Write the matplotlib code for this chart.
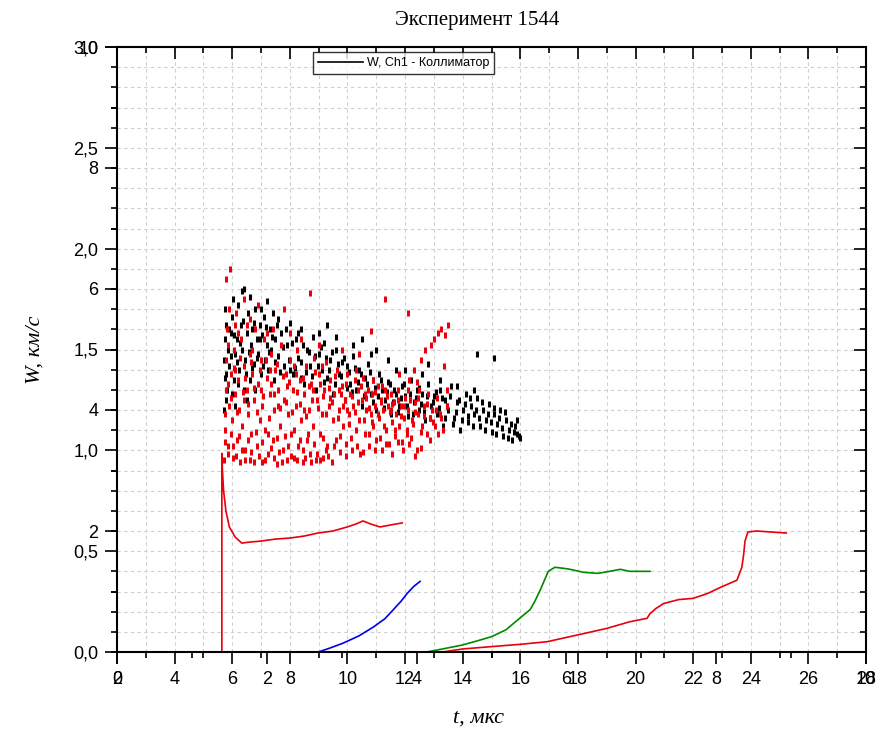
import matplotlib.pyplot as plt
from matplotlib.ticker import MultipleLocator, FuncFormatter
from matplotlib.lines import Line2D

# Красная кривая со всплеском
t_red1 = [5.64, 5.64, 5.66, 5.70, 5.78, 5.90, 6.10, 6.33, 6.60, 7.00, 7.50, 8.00,
          8.50, 8.98, 9.50, 9.99, 10.30, 10.54, 10.80, 11.13, 11.50, 11.90]
w_red1 = [0.0, 0.985, 0.90, 0.80, 0.70, 0.62, 0.57, 0.54, 0.545, 0.55, 0.56, 0.565,
          0.575, 0.59, 0.60, 0.62, 0.635, 0.65, 0.635, 0.62, 0.63, 0.64]

# Синяя кривая
t_blue = [8.99, 9.4, 9.85, 10.4, 10.9, 11.3, 11.58, 11.85, 12.07, 12.3, 12.52]
w_blue = [0.0, 0.02, 0.044, 0.08, 0.124, 0.165, 0.208, 0.25, 0.29, 0.325, 0.35]

# Зелёная кривая
t_green = [12.75, 13.3, 14.0, 14.5, 15.0, 15.5, 16.0, 16.34, 16.5, 16.7, 16.97, 17.2,
           17.5, 17.73, 18.2, 18.7, 19.1, 19.47, 19.8, 20.05, 20.5]
w_green = [0.0, 0.015, 0.035, 0.055, 0.076, 0.11, 0.17, 0.21, 0.25, 0.31, 0.40, 0.42,
           0.415, 0.41, 0.395, 0.39, 0.40, 0.41, 0.40, 0.40, 0.40]

# Вторая красная кривая
t_red2 = [13.3, 14.0, 14.85, 16.0, 16.93, 18.0, 19.0, 19.8, 20.4, 20.5, 20.7, 20.97,
          21.5, 22.0, 22.5, 22.94, 23.52, 23.69, 23.75, 23.8, 23.9, 24.2, 24.7, 25.23]
w_red2 = [0.0, 0.015, 0.025, 0.038, 0.051, 0.085, 0.117, 0.15, 0.167, 0.19, 0.215, 0.24,
          0.26, 0.266, 0.29, 0.32, 0.356, 0.42, 0.48, 0.55, 0.595, 0.60, 0.595, 0.59]

# Чёрные точки (Ch1 - Коллиматор)
black_pts = [
    (5.72, 1.45), (5.75, 1.55), (5.78, 1.38), (5.8, 1.62), (5.82, 1.30), (5.85, 1.50),
    (5.9, 1.42), (5.95, 1.58), (6.0, 1.66), (6.05, 1.35), (6.1, 1.48), (6.15, 1.55),
    (6.2, 1.72), (6.25, 1.40), (6.3, 1.62), (6.35, 1.50), (6.4, 1.80), (6.45, 1.45),
    (6.5, 1.58), (6.55, 1.68), (6.6, 1.35), (6.65, 1.52), (6.7, 1.60), (6.75, 1.43),
    (6.8, 1.70), (6.85, 1.55), (6.9, 1.48), (6.95, 1.62), (7.0, 1.38), (7.05, 1.57),
    (7.1, 1.66), (7.15, 1.45), (7.2, 1.52), (7.25, 1.40), (7.3, 1.60), (7.35, 1.50),
    (7.4, 1.68), (7.45, 1.35), (7.5, 1.55), (7.6, 1.47), (7.7, 1.58), (7.8, 1.42),
    (7.9, 1.52), (8.0, 1.63), (8.1, 1.38), (8.2, 1.55), (8.3, 1.46), (8.4, 1.60),
    (8.5, 1.33), (8.6, 1.50), (8.7, 1.42), (8.8, 1.56), (8.9, 1.30), (9.0, 1.48),
    (9.1, 1.40), (9.2, 1.53), (9.3, 1.36), (9.4, 1.45), (9.5, 1.28), (9.6, 1.50),
    (9.7, 1.38), (9.8, 1.44), (9.9, 1.25), (10.0, 1.42), (10.1, 1.33), (10.2, 1.47),
    (10.3, 1.30), (10.4, 1.40), (10.5, 1.22), (10.6, 1.36), (10.7, 1.43), (10.8, 1.28),
    (10.9, 1.35), (11.0, 1.20), (11.1, 1.38), (11.2, 1.30), (11.3, 1.25), (11.4, 1.34),
    (11.5, 1.18), (11.6, 1.30), (11.7, 1.40), (11.8, 1.22), (11.9, 1.32), (12.0, 1.27),
    (12.1, 1.17), (12.2, 1.35), (12.3, 1.24), (12.4, 1.30), (12.5, 1.20), (12.6, 1.28),
    (12.7, 1.15), (12.8, 1.33), (12.9, 1.22), (13.0, 1.27), (13.1, 1.18), (13.2, 1.30),
    (13.3, 1.12), (13.4, 1.25), (13.5, 1.20), (13.6, 1.32), (13.7, 1.16), (13.8, 1.24),
    (13.9, 1.10), (14.0, 1.20), (14.1, 1.28), (14.2, 1.14), (14.3, 1.22), (14.4, 1.18),
    (14.5, 1.26), (14.6, 1.12), (14.7, 1.20), (14.8, 1.15), (14.9, 1.23), (15.0, 1.09),
    (15.1, 1.18), (15.2, 1.13), (15.3, 1.20), (15.4, 1.07), (15.5, 1.15), (15.6, 1.10),
    (15.7, 1.05), (15.8, 1.12), (15.9, 1.08), (16.0, 1.06), (14.5, 1.48), (15.1, 1.46),
    (6.35, 1.79), (5.7, 1.20), (5.75, 1.70), (6.0, 1.28), (6.2, 1.33), (6.5, 1.25),
    (6.8, 1.30), (7.2, 1.74), (7.6, 1.65), (8.0, 1.40), (8.4, 1.36), (9.0, 1.58),
    (9.6, 1.56), (10.2, 1.52), (10.8, 1.48), (11.4, 1.45), (12.0, 1.40), (12.6, 1.38),
    (13.2, 1.35), (13.8, 1.32), (14.4, 1.30),
    (5.74, 1.36), (5.88, 1.60), (5.97, 1.47), (6.07, 1.57), (6.17, 1.44), (6.27, 1.53),
    (6.37, 1.64), (6.47, 1.38), (6.57, 1.49), (6.67, 1.41), (6.77, 1.63), (6.87, 1.46),
    (6.97, 1.55), (7.07, 1.42), (7.17, 1.61), (7.27, 1.49), (7.37, 1.56), (7.47, 1.44),
    (7.57, 1.62), (7.67, 1.39), (7.77, 1.51), (7.87, 1.60), (7.97, 1.45), (8.07, 1.53),
    (8.17, 1.41), (8.27, 1.58), (8.37, 1.44), (8.47, 1.52), (8.57, 1.39), (8.67, 1.49),
    (8.77, 1.37), (8.87, 1.47), (8.97, 1.42), (9.07, 1.51), (9.17, 1.34), (9.27, 1.46),
    (9.37, 1.40), (9.47, 1.49), (9.57, 1.33), (9.67, 1.43), (9.77, 1.37), (9.87, 1.46),
    (9.97, 1.31), (10.07, 1.39), (10.17, 1.29), (10.27, 1.41), (10.37, 1.34), (10.47, 1.38),
    (10.57, 1.27), (10.67, 1.33), (10.77, 1.39), (10.87, 1.24), (10.97, 1.31), (11.07, 1.27),
    (11.17, 1.35), (11.27, 1.21), (11.37, 1.29), (11.47, 1.33), (11.57, 1.24), (11.67, 1.28),
    (11.77, 1.19), (11.87, 1.26), (11.97, 1.33), (12.07, 1.22), (12.17, 1.28), (12.27, 1.18),
    (12.37, 1.26), (12.47, 1.31), (12.57, 1.23), (12.67, 1.19), (12.77, 1.27), (12.87, 1.16),
    (12.97, 1.24), (13.07, 1.29), (13.17, 1.21), (13.27, 1.26), (13.37, 1.16), (13.47, 1.22),
    (13.57, 1.27), (13.67, 1.13), (13.77, 1.19), (13.87, 1.25), (13.97, 1.15), (14.07, 1.23),
    (14.17, 1.17), (14.27, 1.26), (14.37, 1.12), (14.47, 1.20), (14.57, 1.16), (14.67, 1.24),
    (14.77, 1.10), (14.87, 1.18), (14.97, 1.14), (15.07, 1.21), (15.17, 1.08), (15.27, 1.16),
    (15.37, 1.11), (15.47, 1.19), (15.57, 1.06), (15.67, 1.13), (15.77, 1.09), (15.87, 1.15),
    (15.97, 1.07), (6.02, 1.75), (6.6, 1.76), (7.0, 1.70), (5.78, 1.25), (6.1, 1.22),
    (6.4, 1.30), (9.3, 1.62), (10.5, 1.55), (11.0, 1.50), (12.8, 1.43),
]

# Красные точки
red_pts = [
    (5.72, 0.95), (5.75, 1.10), (5.78, 1.30), (5.8, 1.45), (5.82, 1.60), (5.85, 1.02),
    (5.9, 1.22), (5.92, 1.90), (5.95, 1.38), (6.0, 1.15), (6.02, 0.96), (6.05, 1.50),
    (6.1, 1.28), (6.12, 1.68), (6.15, 1.05), (6.2, 1.35), (6.25, 1.20), (6.28, 0.94),
    (6.3, 1.55), (6.35, 1.12), (6.4, 1.42), (6.42, 1.75), (6.45, 1.00), (6.5, 1.30),
    (6.55, 1.18), (6.6, 1.48), (6.62, 0.95), (6.65, 1.08), (6.7, 1.38), (6.75, 1.25),
    (6.8, 1.60), (6.85, 1.02), (6.9, 1.33), (6.95, 1.15), (7.0, 1.45), (7.02, 0.94),
    (7.05, 1.22), (7.1, 1.55), (7.15, 1.10), (7.2, 1.36), (7.25, 0.98), (7.3, 1.28),
    (7.35, 1.48), (7.4, 1.05), (7.45, 1.20), (7.5, 1.40), (7.55, 0.93), (7.6, 1.30),
    (7.65, 1.12), (7.7, 1.52), (7.75, 1.00), (7.8, 1.25), (7.85, 1.38), (7.9, 0.95),
    (7.95, 1.18), (8.0, 1.45), (8.05, 1.08), (8.1, 1.30), (8.15, 0.96), (8.2, 1.22),
    (8.25, 1.50), (8.3, 1.02), (8.35, 1.35), (8.4, 1.15), (8.45, 0.94), (8.5, 1.28),
    (8.55, 1.42), (8.6, 1.05), (8.65, 1.20), (8.7, 0.98), (8.75, 1.33), (8.8, 1.12),
    (8.85, 1.46), (8.9, 0.95), (8.95, 1.25), (9.0, 1.38), (9.05, 1.08), (9.1, 1.18),
    (9.15, 0.96), (9.2, 1.30), (9.25, 1.44), (9.3, 1.02), (9.35, 1.22), (9.4, 1.35),
    (9.45, 0.94), (9.5, 1.15), (9.55, 1.28), (9.6, 1.05), (9.65, 1.40), (9.7, 1.20),
    (9.75, 0.99), (9.8, 1.32), (9.85, 1.12), (9.9, 1.25), (9.95, 1.03), (10.0, 1.38),
    (10.05, 1.18), (10.1, 1.28), (10.15, 1.00), (10.2, 1.22), (10.25, 1.35), (10.3, 1.10),
    (10.35, 1.30), (10.4, 1.15), (10.45, 0.98), (10.5, 1.25), (10.55, 1.36), (10.6, 1.08),
    (10.65, 1.20), (10.7, 1.30), (10.75, 1.02), (10.8, 1.18), (10.85, 1.28), (10.9, 1.12),
    (10.95, 1.22), (11.0, 1.05), (11.05, 1.32), (11.1, 1.16), (11.15, 1.25), (11.2, 1.00),
    (11.25, 1.20), (11.3, 1.30), (11.35, 1.10), (11.4, 1.22), (11.45, 1.03), (11.5, 1.28),
    (11.55, 1.14), (11.6, 1.24), (11.65, 1.07), (11.7, 1.18), (11.75, 1.30), (11.8, 1.12),
    (11.85, 1.22), (11.9, 1.04), (11.95, 1.16), (12.0, 1.26), (12.05, 1.10), (12.1, 1.20),
    (12.15, 1.35), (12.2, 1.06), (12.25, 1.15), (12.3, 1.40), (12.35, 1.24), (12.4, 1.00),
    (12.45, 1.18), (12.5, 1.30), (12.55, 1.45), (12.6, 1.12), (12.65, 1.22), (12.7, 1.50),
    (12.75, 1.08), (12.8, 1.28), (12.85, 1.16), (12.9, 1.52), (12.95, 1.20), (13.0, 1.55),
    (13.05, 1.12), (13.1, 1.26), (13.15, 1.58), (13.2, 1.18), (13.25, 1.60), (13.3, 1.10),
    (13.4, 1.57), (13.5, 1.62), (13.45, 1.22), (12.1, 1.68), (11.3, 1.75), (10.8, 1.59),
    (8.7, 1.78), (7.8, 1.70), (6.9, 1.72), (6.1, 1.40), (6.4, 1.25), (6.7, 1.50),
    (7.0, 1.30), (7.3, 1.40), (7.6, 1.22), (7.9, 1.32), (8.2, 1.38), (8.5, 1.20),
    (8.8, 1.30), (9.1, 1.42), (9.4, 1.26), (9.7, 1.30), (10.0, 1.20), (10.3, 1.40),
    (10.6, 1.28), (10.9, 1.35), (11.2, 1.32), (11.5, 1.20), (11.8, 1.38), (12.1, 1.30),
    (12.4, 1.34), (6.2, 1.58), (5.9, 1.70), (6.6, 1.65), (7.4, 1.60), (8.0, 1.58),
    (5.8, 1.85),
    (5.76, 1.18), (5.86, 1.33), (5.96, 1.26), (6.06, 1.41), (6.16, 1.19), (6.26, 1.46),
    (6.36, 1.29), (6.46, 1.36), (6.56, 1.23), (6.66, 1.44), (6.76, 1.31), (6.86, 1.19),
    (6.96, 1.40), (7.06, 1.27), (7.16, 1.45), (7.26, 1.16), (7.36, 1.33), (7.46, 1.28),
    (7.56, 1.43), (7.66, 1.21), (7.76, 1.37), (7.86, 1.24), (7.96, 1.34), (8.06, 1.19),
    (8.16, 1.42), (8.26, 1.29), (8.36, 1.23), (8.46, 1.36), (8.56, 1.17), (8.66, 1.32),
    (8.76, 1.25), (8.86, 1.39), (8.96, 1.21), (9.06, 1.33), (9.16, 1.27), (9.26, 1.18),
    (9.36, 1.31), (9.46, 1.24), (9.56, 1.37), (9.66, 1.16), (9.76, 1.28), (9.86, 1.22),
    (9.96, 1.33), (10.06, 1.13), (10.16, 1.27), (10.26, 1.19), (10.36, 1.24), (10.46, 1.32),
    (10.56, 1.15), (10.66, 1.26), (10.76, 1.21), (10.86, 1.14), (10.96, 1.29), (11.06, 1.18),
    (11.16, 1.24), (11.26, 1.12), (11.36, 1.27), (11.46, 1.19), (11.56, 1.23), (11.66, 1.10),
    (11.76, 1.25), (11.86, 1.17), (11.96, 1.22), (12.06, 1.08), (12.16, 1.25), (12.26, 1.13),
    (12.36, 1.19), (12.46, 1.26), (12.56, 1.09), (12.66, 1.17), (12.76, 1.23), (12.86, 1.05),
    (12.96, 1.14), (13.06, 1.20), (13.16, 1.08), (13.26, 1.16), (13.36, 1.42), (13.46, 1.30),
    (5.74, 1.04), (5.84, 0.98), (5.94, 1.08), (6.04, 1.02), (6.14, 0.97), (6.24, 1.07),
    (6.34, 1.00), (6.44, 0.95), (6.54, 1.05), (6.64, 0.99), (6.74, 0.94), (6.84, 1.09),
    (6.94, 0.97), (7.04, 1.04), (7.14, 0.95), (7.24, 1.08), (7.34, 1.01), (7.44, 0.96),
    (7.54, 1.06), (7.64, 0.99), (7.74, 0.94), (7.84, 1.07), (7.94, 1.02), (8.04, 0.97),
    (8.14, 1.10), (8.24, 0.95), (8.34, 1.05), (8.44, 1.00), (8.54, 0.96), (8.64, 1.08),
    (8.74, 0.94), (8.84, 1.03), (8.94, 0.98), (9.04, 0.95), (9.14, 1.06), (9.24, 1.00),
    (9.34, 0.97), (9.54, 1.02), (9.74, 1.07), (9.94, 0.97), (10.14, 1.06), (10.34, 1.02),
    (10.54, 0.99), (10.74, 1.08), (10.94, 1.00), (11.14, 1.06), (11.34, 1.03), (11.54, 0.98),
    (11.74, 1.04), (11.94, 1.00), (12.14, 1.03), (12.34, 0.97), (12.54, 1.01), (6.5, 1.62),
    (7.2, 1.58), (8.4, 1.55), (9.0, 1.52), (9.8, 1.50), (10.4, 1.48), (5.84, 1.52),
    (6.08, 1.62),
]

# метки второго комплекта осей
x2_ticks = [0, 2, 4, 6, 8, 10]
y2_ticks = [2, 4, 6, 8, 10]

RED = '#e8000b'
W, H = 888, 743
fig = plt.figure(figsize=(W / 100, H / 100), dpi=100)
rect = [117 / W, 1 - 652 / H, (866 - 117) / W, (652 - 47) / H]
ax = fig.add_axes(rect)

comma = FuncFormatter(lambda v, p: f"{v:.1f}".replace('.', ','))

ax.set_xlim(2, 28)
ax.set_ylim(0, 3)
ax.xaxis.set_major_locator(MultipleLocator(2))
ax.xaxis.set_minor_locator(MultipleLocator(1))
ax.yaxis.set_major_locator(MultipleLocator(0.5))
ax.yaxis.set_minor_locator(MultipleLocator(0.1))
ax.yaxis.set_major_formatter(comma)
ax.grid(which='both', ls=(0, (3, 3)), color='#cfcfcf', lw=0.8)
ax.set_axisbelow(True)
ax.tick_params(which='both', direction='out', labelsize=13, width=1.2, pad=5)
ax.tick_params(which='major', length=8.5)
ax.tick_params(which='minor', length=4.5)
for s in ax.spines.values():
    s.set_linewidth(1.5)

bx = [p[0] for p in black_pts]
by = [p[1] for p in black_pts]
rx = [p[0] for p in red_pts]
ry = [p[1] for p in red_pts]
ax.plot(bx, by, ls='none', marker='|', ms=5, mew=2.2, color='black')
ax.plot(rx, ry, ls='none', marker='|', ms=5, mew=2.2, color=RED)

ax.plot(t_red1, w_red1, color=RED, lw=1.2)
ax.plot(t_blue, w_blue, color='#0000ee', lw=1.2)
ax.plot(t_green, w_green, color='#008a00', lw=1.2)
ax.plot(t_red2, w_red2, color=RED, lw=1.2)

for lab in ax.get_xticklabels() + ax.get_yticklabels():
    lab.set_family(['Liberation Sans', 'DejaVu Sans'])

# второй комплект осей (0..10), как в исходнике
ax2 = fig.add_axes(rect, frameon=False)
ax2.patch.set_visible(False)
ax2.set_xlim(0, 10)
ax2.set_ylim(0, 10)
ax2.set_xticks(x2_ticks)
ax2.set_yticks(y2_ticks)
ax2.xaxis.set_minor_locator(MultipleLocator(1))
ax2.yaxis.set_minor_locator(MultipleLocator(1))
ax2.tick_params(which='both', direction='out', labelsize=13, width=1.2, pad=5)
ax2.tick_params(which='major', length=8.5)
ax2.tick_params(which='minor', length=4.5)
for lab in ax2.get_xticklabels() + ax2.get_yticklabels():
    lab.set_family(['Liberation Sans', 'DejaVu Sans'])

# внутренние засечки сверху и справа
ax3 = fig.add_axes(rect, frameon=False)
ax3.patch.set_visible(False)
ax3.set_xlim(2, 28)
ax3.set_ylim(0, 3)
ax3.xaxis.set_major_locator(MultipleLocator(2))
ax3.xaxis.set_minor_locator(MultipleLocator(1))
ax3.yaxis.set_major_locator(MultipleLocator(0.5))
ax3.yaxis.set_minor_locator(MultipleLocator(0.1))
ax3.tick_params(which='both', direction='in', width=1.2, bottom=False, left=False,
                top=True, right=True, labelbottom=False, labelleft=False)
ax3.tick_params(which='major', length=8.5)
ax3.tick_params(which='minor', length=4.5)

handle = Line2D([], [], color='black', lw=1.2)
leg = fig.legend([handle], ['W, Ch1 - Коллиматор'], loc='upper left',
                 bbox_to_anchor=(313 / W, 1 - 52 / H), frameon=True, fancybox=False,
                 edgecolor='black', handlelength=3.6, borderpad=0.4,
                 handletextpad=0.3, borderaxespad=0,
                 prop={'family': ['Liberation Sans', 'DejaVu Sans'], 'size': 9})
leg.get_frame().set_linewidth(1.0)

serif = ['Liberation Serif', 'DejaVu Serif']
fig.text(477 / W, 1 - 21 / H, 'Эксперимент 1544', ha='center', va='center',
         fontsize=15, family=serif)
fig.text(478 / W, 1 - 718 / H, 't, мкс', ha='center', va='center',
         fontsize=16, style='italic', family=serif)
fig.text(35 / W, 1 - 350 / H, 'W, км/с', ha='center', va='center', rotation=90,
         fontsize=16, style='italic', family=serif)

fig.savefig('out.png', dpi=100)
